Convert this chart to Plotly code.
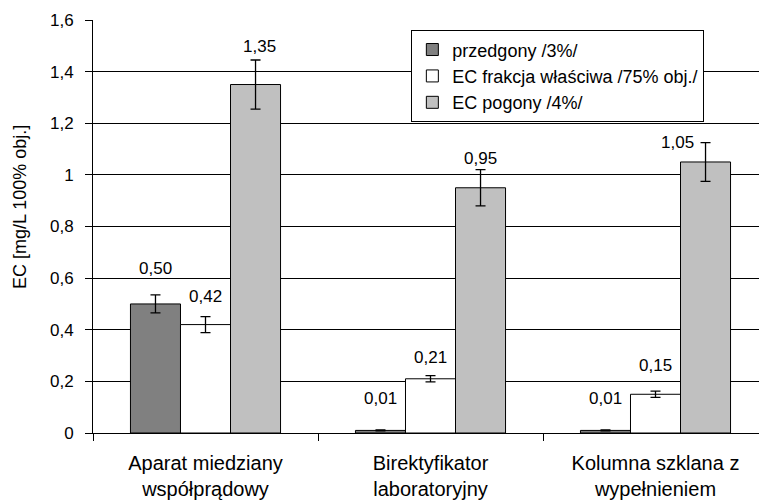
import plotly.graph_objects as go

categories = ["Aparat miedziany<br>współprądowy", "Birektyfikator<br>laboratoryjny", "Kolumna szklana z<br>wypełnieniem"]
series_names = ["przedgony /3%/", "EC frakcja właściwa /75% obj./", "EC pogony /4%/"]
przedgony = [0.50, 0.01, 0.01]
frakcja = [0.42, 0.21, 0.15]
pogony = [1.35, 0.95, 1.05]
err_przedgony = [0.035, 0.002, 0.002]
err_frakcja = [0.031, 0.012, 0.012]
err_pogony = [0.095, 0.07, 0.075]
y_ticks = [0, 0.2, 0.4, 0.6, 0.8, 1.0, 1.2, 1.4, 1.6]
y_ticktext = ["0", "0,2", "0,4", "0,6", "0,8", "1", "1,2", "1,4", "1,6"]

# styling (not data)
colors = ["#808080", "#ffffff", "#c0c0c0"]
label_dx = [-50, 0, 50]
label_dy = [[35, 32, 32], [28, 21, 29], [38, 29, 19]]
label_extra_dx = [[0, 0, 0], [0, 0, 0], [4, 0, -28]]

FONT = "Liberation Sans, Arial, sans-serif"

series = [przedgony, frakcja, pogony]
errors = [err_przedgony, err_frakcja, err_pogony]

fig = go.Figure()
for name, vals, errs, col in zip(series_names, series, errors, colors):
    fig.add_trace(go.Bar(
        name=name, x=categories, y=vals,
        marker=dict(color=col, line=dict(color="black", width=1)),
        error_y=dict(type="data", array=errs, visible=True, color="black", thickness=1.3, width=5),
    ))

annotations = []
for si, vals in enumerate(series):
    for ci, v in enumerate(vals):
        annotations.append(dict(
            x=categories[ci], y=v, xref="x", yref="y",
            text=f"{v:.2f}".replace(".", ","), showarrow=False,
            xshift=label_dx[si] + label_extra_dx[si][ci], yshift=label_dy[si][ci],
            yanchor="middle", xanchor="center",
            font=dict(family=FONT, size=17, color="black"),
        ))
annotations.append(dict(
    x=0, y=0.547, xref="paper", yref="paper", xshift=-73, textangle=-90,
    text="EC [mg/L 100% obj.]", showarrow=False, xanchor="center", yanchor="middle",
    font=dict(family=FONT, size=18, color="black"),
))

fig.update_layout(
    width=759, height=501,
    margin=dict(l=93, r=0, t=20, b=68),
    paper_bgcolor="white", plot_bgcolor="white",
    barmode="group", bargap=0.333, bargroupgap=0,
    font=dict(family=FONT, size=17, color="black"),
    showlegend=True,
    legend=dict(
        x=0.478, y=0.975, xanchor="left", yanchor="top",
        bordercolor="black", borderwidth=1, bgcolor="white",
        font=dict(family=FONT, size=18, color="black"),
        tracegroupgap=0, itemwidth=30,
    ),
    annotations=annotations,
)
fig.update_xaxes(
    range=[-0.5, 2.46], showline=True, linecolor="black", linewidth=1,
    ticks="outside", tickson="boundaries", ticklen=7, tickcolor="black",
    showgrid=False, tickfont=dict(family=FONT, size=20), ticklabelstandoff=12,
)
fig.update_yaxes(
    range=[0, 1.6], tickvals=y_ticks, ticktext=y_ticktext,
    showline=True, linecolor="black", linewidth=1,
    ticks="outside", ticklen=7, tickcolor="black",
    showgrid=True, gridcolor="black", gridwidth=1, zeroline=False,
    tickfont=dict(family=FONT, size=17), ticklabelstandoff=8,
)

fig.write_html("out.html")
